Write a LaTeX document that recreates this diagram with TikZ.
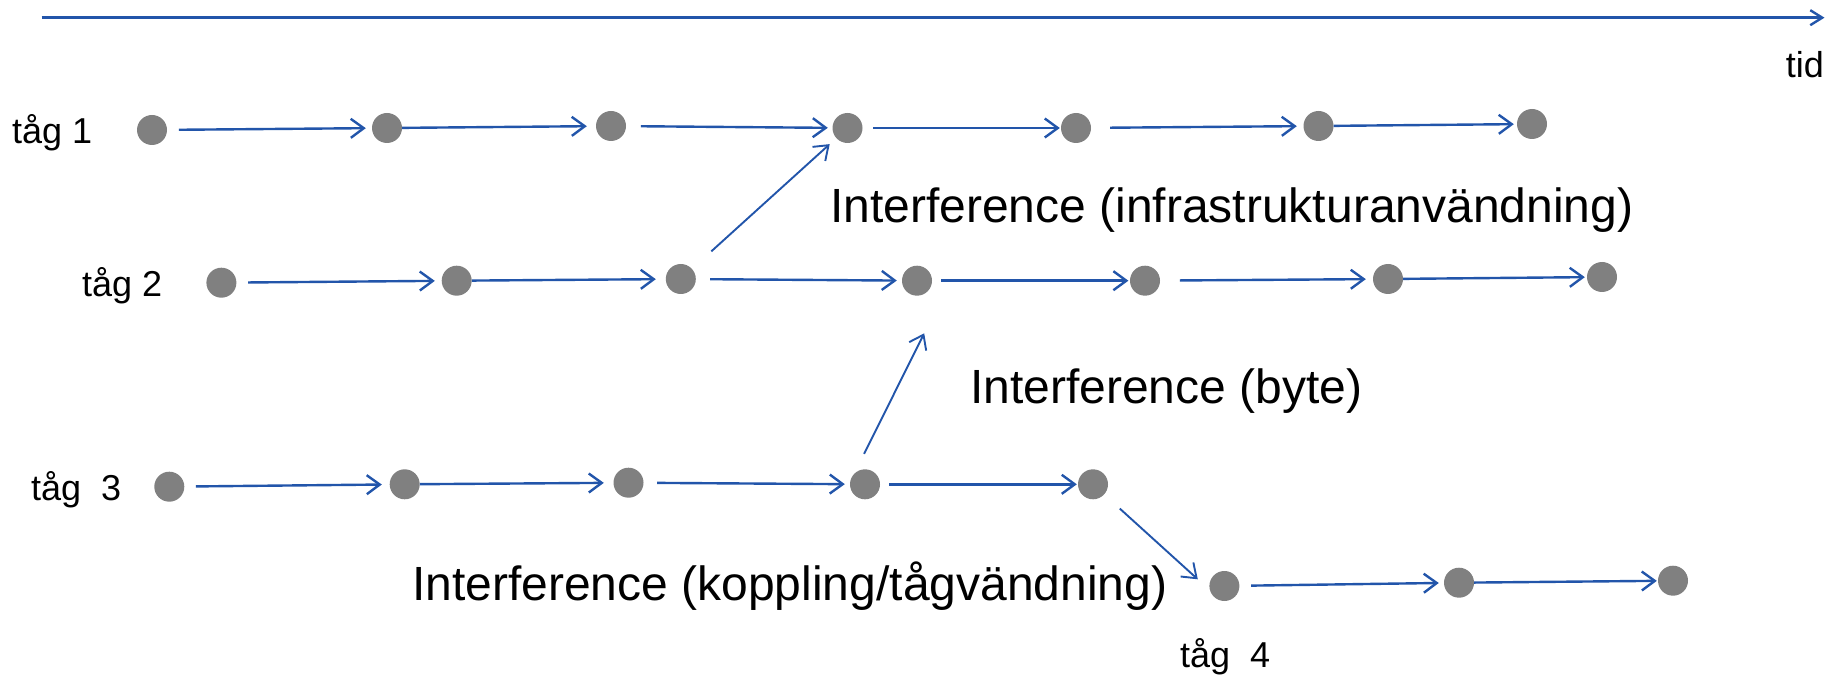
\documentclass[tikz,border=0pt]{standalone}
\usepackage{fontspec}
\setmainfont{Liberation Sans}
\usetikzlibrary{arrows.meta}
\definecolor{arrblue}{RGB}{34,85,170}
\definecolor{dotgray}{RGB}{128,128,128}
\begin{document}
\begin{tikzpicture}[x=1pt,y=-1pt,
  dot/.style={circle,fill=dotgray,inner sep=0pt,minimum size=30pt},
  flow/.style={draw=arrblue,line width=2.4pt,-{Straight Barb[length=13pt,width=19pt]}},
  cross/.style={draw=arrblue,line width=1.9pt,-{Straight Barb[length=13pt,width=19pt]}},
  axisarr/.style={draw=arrblue,line width=2.4pt,-{Straight Barb[length=12pt,width=15pt]}},
  lbl/.style={font=\fontsize{48}{57}\selectfont,inner sep=0pt},
  tlbl/.style={font=\fontsize{36}{43}\selectfont,inner sep=0pt}]
\useasboundingbox (0,0) rectangle (1845,676);

% time axis
\coordinate (ax0) at (41.5,17.7);
\coordinate (ax1) at (1824.5,17.7);
\draw[axisarr] (ax0) -- (ax1);
\node[tlbl,anchor=base east] (tid) at (1824,78) {tid};

% train labels
\node[tlbl,anchor=base west] (t1) at (12,144) {tåg 1};
\node[tlbl,anchor=base west] (t2) at (82,296.7) {tåg 2};
\node[tlbl,anchor=base west] (t3) at (31,500) {tåg~~3};
\node[tlbl,anchor=base west] (t4) at (1180,667) {tåg~~4};

% train 1
\node[dot] (d1) at (152,130) {};
\node[dot] (d2) at (387,128) {};
\node[dot] (d3) at (611,126) {};
\node[dot] (d4) at (847.5,128) {};
\node[dot] (d5) at (1076,128) {};
\node[dot] (d6) at (1318.5,126) {};
\node[dot] (d7) at (1532,124) {};

% train 2
\node[dot] (e1) at (221.4,282.7) {};
\node[dot] (e2) at (456.7,280.7) {};
\node[dot] (e3) at (680.8,279) {};
\node[dot] (e4) at (917,280.7) {};
\node[dot] (e5) at (1145,280.7) {};
\node[dot] (e6) at (1388,279) {};
\node[dot] (e7) at (1602,277) {};

% train 3
\node[dot] (f1) at (169.3,486.7) {};
\node[dot] (f2) at (404.7,484.3) {};
\node[dot] (f3) at (628.5,482.7) {};
\node[dot] (f4) at (865,484.3) {};
\node[dot] (f5) at (1093,484.3) {};

% train 4
\node[dot] (g1) at (1224.4,586) {};
\node[dot] (g2) at (1459,582.7) {};
\node[dot] (g3) at (1673,580.7) {};

% train 1 arrows
\draw[flow,shorten <=11.6pt,shorten >=6pt] (d1) -- (d2);
\draw[flow,shorten >=9pt] (d2) -- (d3);
\draw[flow,shorten <=14.6pt,shorten >=4.5pt] (d3) -- (d4);
\draw[flow,shorten <=10.5pt,shorten >=1pt] (d4) -- (d5);
\draw[flow,shorten <=19pt,shorten >=6.5pt] (d5) -- (d6);
\draw[flow,shorten >=3pt] (d6) -- (d7);

% train 2 arrows
\draw[flow,shorten <=11.6pt,shorten >=6.7pt] (e1) -- (e2);
\draw[flow,shorten >=9.8pt] (e2) -- (e3);
\draw[flow,shorten <=14.2pt,shorten >=5pt] (e3) -- (e4);
\draw[flow,shorten <=9pt,shorten >=1.4pt] (e4) -- (e5);
\draw[flow,shorten <=19.7pt,shorten >=7pt] (e5) -- (e6);
\draw[flow,shorten >=2pt] (e6) -- (e7);

% train 3 arrows
\draw[flow,shorten <=11.4pt,shorten >=7.7pt] (f1) -- (f2);
\draw[flow,shorten >=9.5pt] (f2) -- (f3);
\draw[flow,shorten <=13.5pt,shorten >=5pt] (f3) -- (f4);
\draw[flow,shorten <=9pt,shorten >=1pt] (f4) -- (f5);

% train 4 arrows
\draw[flow,shorten <=11.6pt,shorten >=5pt] (g1) -- (g2);
\draw[flow,shorten >=1pt] (g2) -- (g3);

% interference connectors
\coordinate (tipB) at (924.2,333.3);
\coordinate (tipC) at (1197.8,579.3);
\draw[cross,shorten <=26pt,shorten >=8.8pt] (e3) -- (d4);
\draw[cross,shorten <=22pt] (f4.north west) -- (tipB);
\draw[cross,shorten <=21pt] (f5) -- (tipC);

% interference labels
\node[lbl,anchor=base west] (iA) at (830,222.7) {Interference (infrastrukturanvändning)};
\node[lbl,anchor=base west] (iB) at (970,403.3) {Interference (byte)};
\node[lbl,anchor=base west] (iC) at (412,600) {Interference (koppling/tågvändning)};
\end{tikzpicture}
\end{document}
